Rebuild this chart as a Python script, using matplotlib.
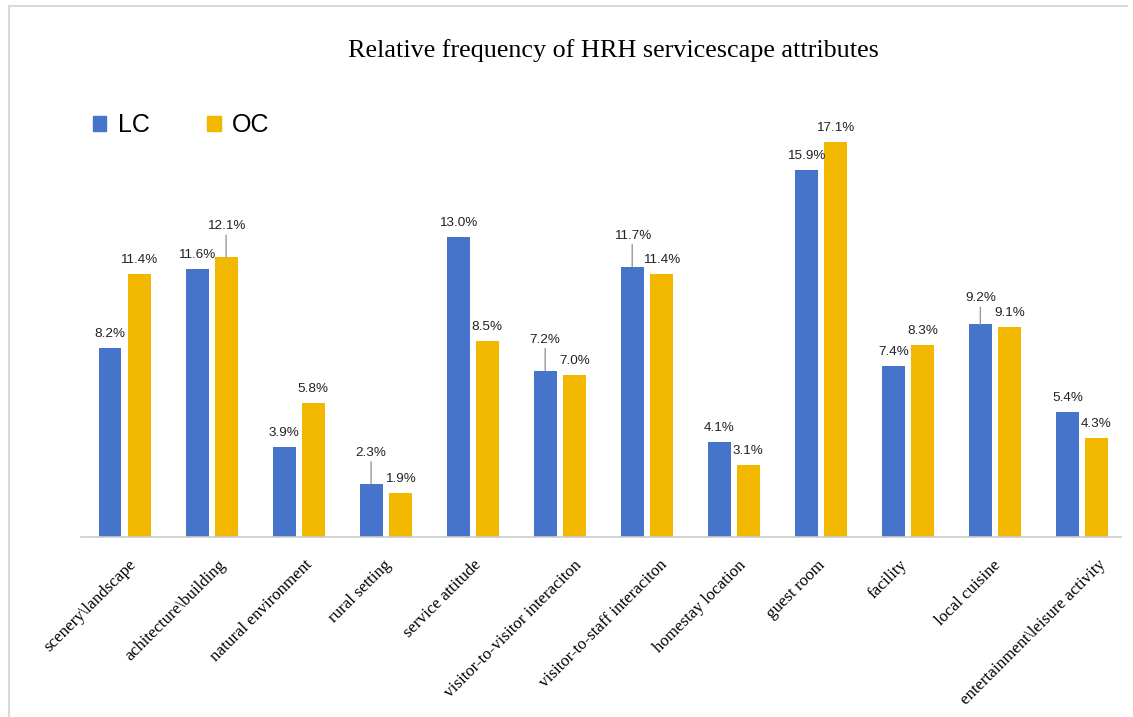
import matplotlib

matplotlib.use("Agg")
import matplotlib.pyplot as plt
import numpy as np
from matplotlib.lines import Line2D
from matplotlib.patches import Patch


CATEGORIES = [
    "scenery\\landscape",
    "achitecture\\building",
    "natural environment",
    "rural setting",
    "service attitude",
    "visitor-to-visitor interaciton",
    "visitor-to-staff interaciton",
    "homestay location",
    "guest room",
    "facility",
    "local cuisine",
    "entertainment\\leisure activity",
]
LC = [8.2, 11.6, 3.9, 2.3, 13.0, 7.2, 11.7, 4.1, 15.9, 7.4, 9.2, 5.4]
OC = [11.4, 12.1, 5.8, 1.9, 8.5, 7.0, 11.4, 3.1, 17.1, 8.3, 9.1, 4.3]

# labels that sit higher with a leader line (series, index)
LEADERS = {("OC", 1), ("LC", 3), ("LC", 5), ("LC", 6), ("LC", 10)}

LC_COLOR = "#4674CB"
OC_COLOR = "#F2B800"
SERIF = "Liberation Serif"
SANS = "Liberation Sans"

fig = plt.figure(figsize=(11.33, 7.17), dpi=100)
ax = fig.add_axes([0.0715, 0.251, 0.918, 0.580])

x = np.arange(len(CATEGORIES))
w = 0.264
off = 0.167
bars_lc = ax.bar(x - off, LC, width=w, color=LC_COLOR, zorder=2)
bars_oc = ax.bar(x + off, OC, width=w, color=OC_COLOR, zorder=2)

for name, bars, vals in [("LC", bars_lc, LC), ("OC", bars_oc, OC)]:
    for i, (b, v) in enumerate(zip(bars, vals)):
        bx = b.get_x() + b.get_width() / 2
        if (name, i) in LEADERS:
            dy = 20 if i == 10 else 25
            ax.annotate(f"{v:.1f}%", xy=(bx, v), xytext=(0, dy), textcoords="offset pixels",
                        ha="center", va="bottom", fontsize=9.7, family=SANS, color="#222222",
                        arrowprops=dict(arrowstyle="-", color="#999999", lw=1,
                                        shrinkA=0, shrinkB=0))
        else:
            ax.annotate(f"{v:.1f}%", xy=(bx, v), xytext=(0, 8), textcoords="offset pixels",
                        ha="center", va="bottom", fontsize=9.7, family=SANS, color="#222222")

ax.set_xlim(-0.5, 11.45)
ax.set_ylim(0, 18)
ax.set_yticks([])
ax.set_xticks([])
for s in ["top", "right", "left"]:
    ax.spines[s].set_visible(False)
ax.spines["bottom"].set_color("#cccccc")
ax.spines["bottom"].set_linewidth(1.2)

# category labels: rotated 45 deg, shifted right a bit more for longer labels
labels = []
for i, cat in enumerate(CATEGORIES):
    t = ax.annotate(cat, xy=(i, 0), xycoords=ax.get_xaxis_transform(), xytext=(0, -20),
                    textcoords="offset pixels", rotation=45, ha="right", va="top",
                    rotation_mode="anchor", family=SERIF, fontsize=12.2)
    labels.append(t)

fig.canvas.draw()
renderer = fig.canvas.get_renderer()
base_px = ax.transAxes.transform((0, 0))[1]
top_target = base_px - 20  # top of label box, in display pixels
for i, t in enumerate(labels):
    bb = t.get_window_extent(renderer)
    cx = ax.transData.transform((i, 0))[0]
    want_right = cx + 0.23 * bb.width - 7.4
    dx = want_right - bb.x1
    dy = top_target - bb.y1
    ox, oy = t.xyann
    t.xyann = (ox + dx, oy + dy)

fig.text(0.541, 1 - 51 / 717, "Relative frequency of HRH servicescape attributes",
         ha="center", va="center", family=SERIF, fontsize=18.8)

handles = [Patch(color=LC_COLOR, label="LC"), Patch(color=OC_COLOR, label="OC")]
fig.legend(handles=handles, loc="center left", bbox_to_anchor=(70 / 1133, 1 - 125 / 717),
           ncol=2, frameon=False, prop={"family": SANS, "size": 18},
           handlelength=0.55, handleheight=0.55, handletextpad=0.45, columnspacing=2.3)

# light frame lines on left and top
fig.add_artist(Line2D([8.5 / 1133, 8.5 / 1133], [0, 1 - 6 / 717], color="#d9d9d9", lw=1.5,
                      transform=fig.transFigure))
fig.add_artist(Line2D([8.5 / 1133, 1127 / 1133], [1 - 6 / 717, 1 - 6 / 717], color="#d9d9d9",
                      lw=1.5, transform=fig.transFigure))

fig.savefig("out.png", dpi=100, facecolor="white")
